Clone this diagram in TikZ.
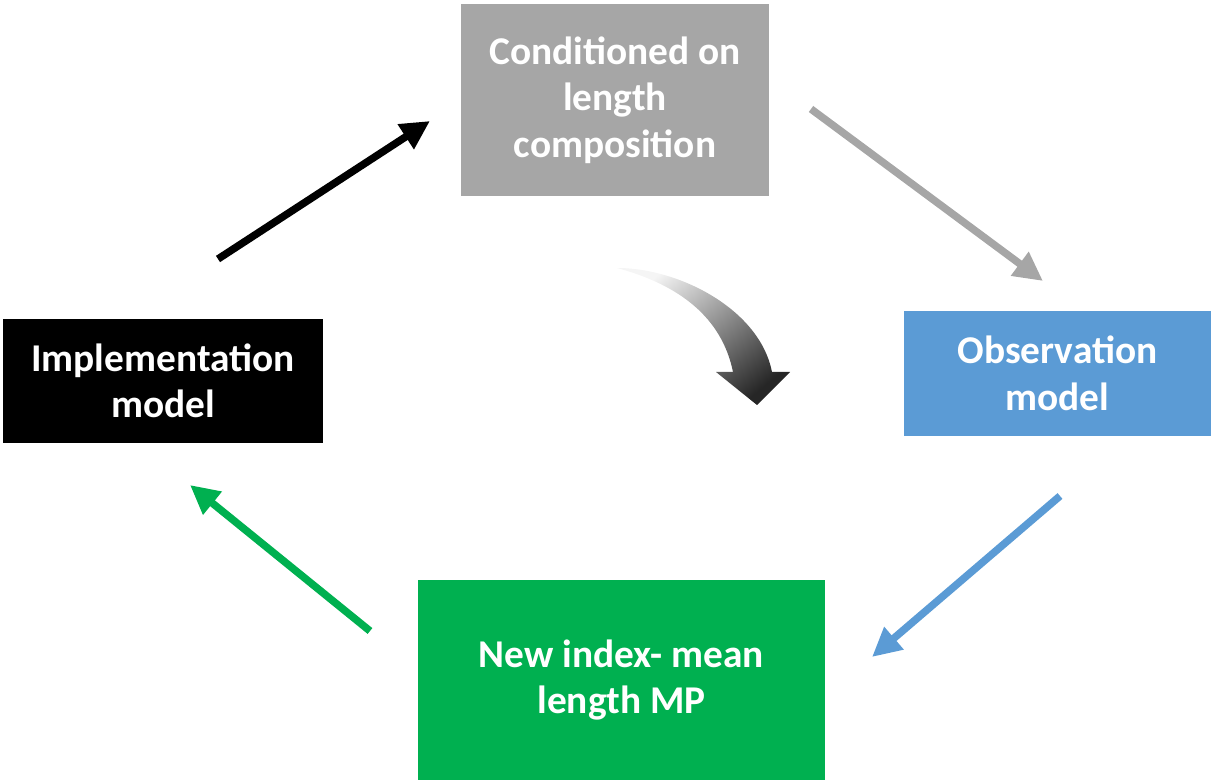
\documentclass[tikz,border=0pt]{standalone}
\usepackage{fontspec}
\setmainfont{Carlito}
\usepackage{tikz}
\usetikzlibrary{arrows, arrows.meta, positioning}
\definecolor{boxgray}{HTML}{A6A6A6}
\definecolor{boxblue}{HTML}{5B9BD5}
\definecolor{boxgreen}{HTML}{00B050}
\tikzstyle{box}=[inner sep=0pt, align=center, text=white, font=\bfseries\fontsize{22.4}{26.5}\selectfont]
\tikzstyle{arr}=[line width=0.15cm]

\begin{document}
\begin{tikzpicture}[>={Triangle[length=0.58cm, width=0.56cm]}, x=0.02cm, y=-0.02cm]
\useasboundingbox (0,0) rectangle (1211,783);
\node[box, fill=boxgray, minimum width=6.16cm, minimum height=3.84cm] at (615,100) (cond) {Conditioned on\\length\\composition};
\node[box, fill=boxblue, minimum width=6.14cm, minimum height=2.5cm] at (1057.5,373.5) (obs) {Observation\\model};
\node[box, fill=boxgreen, minimum width=8.14cm, minimum height=4cm] at (621.5,680) (mp) {New index- mean\\length MP};
\node[box, fill=black, minimum width=6.4cm, minimum height=2.48cm] at (163,381) (impl) {Implementation\\model};
% free ends of the arrows
\coordinate (impl_out) at (218,259);
\coordinate (cond_in) at (430,121);
\coordinate (cond_out) at (811,109);
\coordinate (obs_in) at (1043,281);
\coordinate (obs_out) at (1060,496);
\coordinate (mp_in) at (872,657);
\coordinate (mp_out) at (370,631);
\coordinate (impl_in) at (190,485);
\draw[->, arr, black] (impl_out) -- (cond_in);
\draw[->, arr, boxgray] (cond_out) -- (obs_in);
\draw[->, arr, boxblue] (obs_out) -- (mp_in);
\draw[->, arr, boxgreen] (mp_out) -- (impl_in);
% curved arrow in the middle
\shade[top color=black!4, middle color=black!40, bottom color=black!85, shading angle=40]
  (617,268) .. controls (680,268) and (760,310) .. (772,372)
  -- (790,372) -- (757,405) -- (716,372) -- (733,372)
  .. controls (722,318) and (680,285) .. (617,268) -- cycle;
\end{tikzpicture}
\end{document}
